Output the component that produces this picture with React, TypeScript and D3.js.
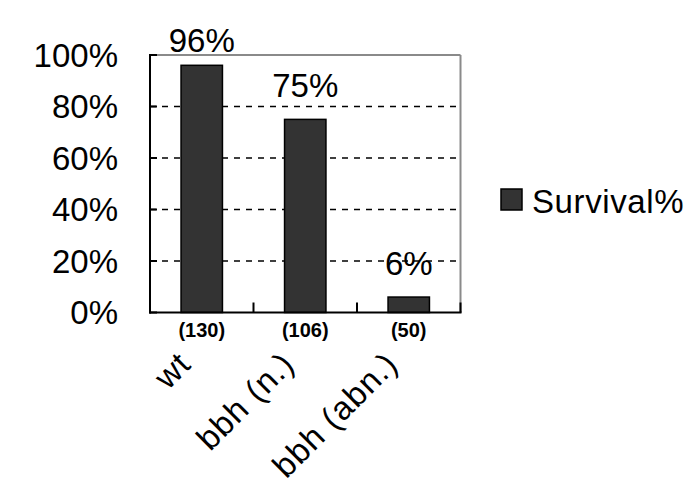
import React from "react";
import * as d3 from "d3";

const categories = ["wt", "bbh (n.)", "bbh (abn.)"];
const survival = [96, 75, 6];
const counts = ["(130)", "(106)", "(50)"];
const yTicks = [0, 20, 40, 60, 80, 100];
const seriesName = "Survival%";

const W = 700;
const H = 480;
const left = 150;
const right = 460.5;
const top = 55;
const bottom = 312.5;
const FONT = "Arial, 'Liberation Sans', sans-serif";

export default function App() {
  const x = d3
    .scaleBand<string>()
    .domain(categories)
    .range([left, right])
    .paddingInner(0.6)
    .paddingOuter(0.3);
  const xStep = d3.scaleBand<string>().domain(categories).range([left, right]);
  const y = d3.scaleLinear().domain([0, 100]).range([bottom, top]);

  return (
    <svg
      width={W}
      height={H}
      style={{ position: "absolute", left: 0, top: 0, background: "#fff" }}
      fontFamily={FONT}
    >
      <rect x={0} y={0} width={W} height={H} fill="#fff" />
      {/* grid lines */}
      {yTicks
        .filter((t) => t > 0 && t < 100)
        .map((t) => (
          <line
            key={"g" + t}
            x1={left}
            x2={right}
            y1={y(t)}
            y2={y(t)}
            stroke="#000"
            strokeWidth={1.5}
            strokeDasharray="6,6"
          />
        ))}
      {/* top and right border */}
      <line x1={left} x2={right} y1={top} y2={top} stroke="#8a8a8a" strokeWidth={2} />
      <line x1={right} x2={right} y1={top} y2={bottom} stroke="#8a8a8a" strokeWidth={2} />
      {/* bars */}
      {categories.map((c, i) => (
        <rect
          key={"b" + c}
          x={x(c)!}
          y={y(survival[i])}
          width={x.bandwidth()}
          height={bottom - y(survival[i])}
          fill="#333333"
          stroke="#000"
          strokeWidth={1.5}
        />
      ))}
      {/* y-axis */}
      <line x1={left} x2={left} y1={top - 1} y2={bottom + 1} stroke="#000" strokeWidth={2} />
      {yTicks.map((t) => (
        <g key={"t" + t}>
          <line x1={left} x2={left + 7} y1={y(t)} y2={y(t)} stroke="#000" strokeWidth={2} />
          <text
            x={118}
            y={y(t)}
            dy="0.36em"
            textAnchor="end"
            fontSize={33}
            fill="#000"
          >
            {t + "%"}
          </text>
        </g>
      ))}
      {/* x-axis */}
      <line x1={left - 1} x2={right + 1} y1={bottom} y2={bottom} stroke="#000" strokeWidth={2} />
      {categories.map((c) => (
        <line
          key={"xt" + c}
          x1={xStep(c)! + xStep.bandwidth()}
          x2={xStep(c)! + xStep.bandwidth()}
          y1={bottom}
          y2={bottom - 10}
          stroke="#000"
          strokeWidth={2}
        />
      ))}
      {/* value labels */}
      {categories.map((c, i) => (
        <text
          key={"v" + c}
          x={x(c)! + x.bandwidth() / 2}
          y={Math.max(y(survival[i]) - 22, 52)}
          textAnchor="middle"
          fontSize={33}
          fill="#000"
        >
          {survival[i] + "%"}
        </text>
      ))}
      {/* counts */}
      {categories.map((c, i) => (
        <text
          key={"n" + c}
          x={x(c)! + x.bandwidth() / 2}
          y={337}
          textAnchor="middle"
          fontSize={20}
          fontWeight="bold"
          fill="#000"
        >
          {counts[i]}
        </text>
      ))}
      {/* category labels */}
      {categories.map((c) => {
        const cx = x(c)! + x.bandwidth() / 2 - 9;
        const cy = 366;
        return (
          <text
            key={"c" + c}
            transform={`translate(${cx},${cy}) rotate(-45)`}
            textAnchor="end"
            fontSize={33}
            letterSpacing={1}
            fill="#000"
          >
            {c}
          </text>
        );
      })}
      {/* legend */}
      <rect x={501} y={189} width={21} height={21} fill="#333333" stroke="#000" strokeWidth={1.5} />
      <text x={532} y={213} fontSize={33} letterSpacing={0.6} fill="#000">
        {seriesName}
      </text>
    </svg>
  );
}
